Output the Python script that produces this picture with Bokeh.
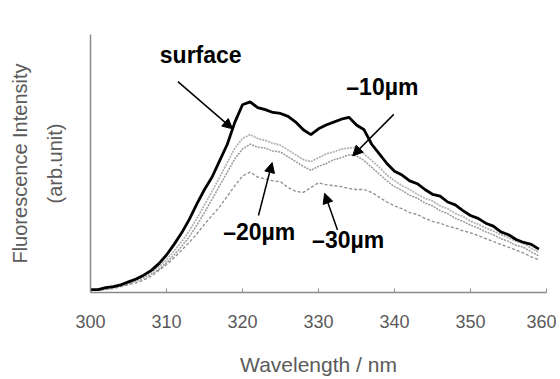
from bokeh.plotting import figure
from bokeh.models import Range1d, LinearAxis, FixedTicker, Arrow, NormalHead, Label
from bokeh.embed import file_html
from bokeh.resources import INLINE

wavelength = list(range(300, 360))

surface = [3, 3, 5, 6, 8, 11, 14, 18, 23, 30,
           39, 50, 62, 76, 92, 107, 120, 137, 154, 177,
           195, 198, 192, 190, 187, 186, 183, 177, 169, 164,
           170, 174, 177, 180, 182, 174, 169, 154, 144, 134,
           126, 122, 116, 113, 107, 102, 100, 94, 91, 85,
           80, 77, 72, 69, 63, 60, 55, 52, 50, 45]

um10 = [2.5, 3, 4, 6, 8, 10, 13, 17, 21, 27,
        34, 43, 53, 64, 77, 91, 105, 120, 135, 150,
        160, 164, 160, 158, 155, 153, 148, 143, 138, 136,
        140, 144, 146, 149, 150, 151, 144, 137, 130, 122,
        116, 111, 107, 102, 98, 95, 90, 87, 82, 79,
        74, 71, 67, 64, 60, 57, 53, 51, 46, 42]

um20 = [2.5, 2.5, 3.5, 5, 7, 9, 12, 15, 19, 24,
        31, 39, 48, 58, 70, 83, 97, 111, 125, 139,
        149, 154, 151, 150, 147, 146, 141, 136, 131, 127,
        131, 134, 138, 140, 143, 142, 137, 130, 123, 116,
        110, 106, 101, 98, 93, 90, 85, 82, 77, 74,
        70, 67, 63, 60, 56, 53, 49, 47, 42, 38]

um30 = [2, 2.5, 3, 4, 6, 8, 10, 13, 17, 23,
        29, 36, 44, 52, 61, 71, 80, 89, 100, 111,
        121, 125, 120, 118, 116, 115, 109, 105, 104, 109,
        114, 112, 111, 110, 108, 107, 107, 104, 99, 94,
        90, 87, 83, 81, 77, 74, 72, 69, 67, 64,
        62, 59, 56, 53, 50, 47, 44, 41, 37, 34]

x_ticks = [300, 310, 320, 330, 340, 350, 360]

FONT = "Liberation Sans"
TXT = "#5a5a5a"
AX = "#8a8a8a"

p = figure(width=556, height=378, output_backend="svg", toolbar_location=None,
           x_range=Range1d(300, 360), y_range=Range1d(0, 268),
           min_border_left=90, min_border_right=10, min_border_top=34, min_border_bottom=76)
p.outline_line_color = None
p.grid.grid_line_color = None
p.background_fill_color = "white"

# x axis
xa = p.xaxis[0]
xa.ticker = FixedTicker(ticks=x_ticks)
xa.axis_line_color = AX
xa.axis_line_width = 1.5
xa.major_tick_line_color = AX
xa.major_tick_in = 4
xa.major_tick_out = 0
xa.minor_tick_line_color = None
xa.major_label_text_font = FONT
xa.major_label_text_font_size = "18px"
xa.major_label_text_color = TXT
xa.major_label_standoff = 22
xa.axis_label = "Wavelength / nm"
xa.axis_label_text_font = FONT
xa.axis_label_text_font_size = "21px"
xa.axis_label_text_font_style = "normal"
xa.axis_label_text_color = TXT
xa.axis_label_standoff = 22

# y axis (inner, with line)
ya = p.yaxis[0]
ya.ticker = FixedTicker(ticks=[])
ya.axis_line_color = AX
ya.axis_line_width = 1.5
ya.major_tick_line_color = None
ya.minor_tick_line_color = None
ya.major_tick_out = 0
ya.major_label_standoff = 0
ya.axis_label = "(arb.unit)"
ya.axis_label_text_font = FONT
ya.axis_label_text_font_size = "20px"
ya.axis_label_text_font_style = "normal"
ya.axis_label_text_color = TXT
ya.axis_label_standoff = 25

ya2 = LinearAxis(ticker=FixedTicker(ticks=[]), axis_line_color=None,
                 major_tick_line_color=None, minor_tick_line_color=None,
                 major_tick_out=0, major_label_standoff=0,
                 axis_label="Fluorescence Intensity", axis_label_text_font=FONT,
                 axis_label_text_font_size="20px", axis_label_text_font_style="normal",
                 axis_label_text_color=TXT, axis_label_standoff=10)
p.add_layout(ya2, "left")

# curves
p.line(wavelength, um30, line_color="#8c8c8c", line_width=1.3, line_dash="3 2")
p.line(wavelength, um20, line_color="#9a9a9a", line_width=1.5, line_dash="2 1")
p.line(wavelength, um10, line_color="#b0b0b0", line_width=1.7, line_dash="2 1")
p.line(wavelength, surface, line_color="black", line_width=2.8)

# annotations
def lab(x, y, t):
    p.add_layout(Label(x=x, y=y, text=t, text_font=FONT, text_font_size="23px",
                       text_font_style="bold", text_color="black",
                       text_align="center", text_baseline="middle"))

def arr(x0, y0, x1, y1):
    p.add_layout(Arrow(x_start=x0, y_start=y0, x_end=x1, y_end=y1,
                       line_color="black", line_width=1.5,
                       end=NormalHead(size=10, fill_color="black", line_color="black")))

lab(314.5, 247, "surface")
arr(311.5, 219, 318.7, 170)
lab(338.4, 213, "\u201310\u00b5m")
arr(339.9, 185, 334.5, 142)
lab(322.2, 63, "\u201320\u00b5m")
arr(322.1, 80, 323.9, 135)
lab(333.9, 55, "\u201330\u00b5m")
arr(332.5, 65, 330.8, 103)

open("out.html", "w").write(file_html(p, INLINE))
